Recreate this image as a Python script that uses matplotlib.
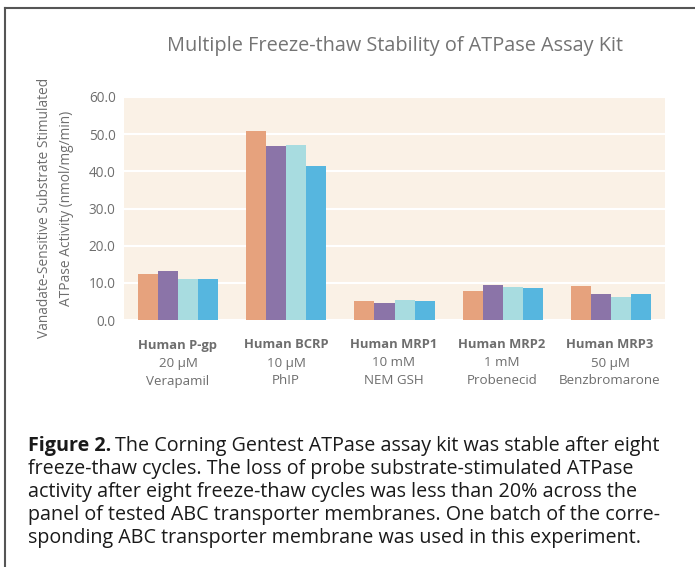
import matplotlib
matplotlib.use("Agg")
import matplotlib.pyplot as plt
import numpy as np

categories = ["Human P-gp", "Human BCRP", "Human MRP1", "Human MRP2", "Human MRP3"]
conc = ["20 \u00b5M", "10 \u00b5M", "10 mM", "1 mM", "50 \u00b5M"]
substrates = ["Verapamil", "PhIP", "NEM GSH", "Probenecid", "Benzbromarone"]
series1 = [12.4, 50.8, 5.1, 7.8, 9.1]
series2 = [13.2, 46.8, 4.6, 9.4, 7.0]
series3 = [11.0, 47.1, 5.4, 8.9, 6.2]
series4 = [11.0, 41.4, 5.1, 8.6, 7.0]
yticks = [0, 10, 20, 30, 40, 50, 60]

colors = ["#E6A27D", "#8B74A8", "#A8DCE0", "#56B6DF"]
FONT = ["Open Sans", "DejaVu Sans"]
plt.rcParams['font.family'] = FONT
grey = "#6E6E6E"

fig = plt.figure(figsize=(6.95, 5.67), dpi=100)
ax = fig.add_axes([124/695, 1-320/567, (665-124)/695, (320-97)/567])
ax.set_facecolor("#FAF1E6")
x = np.arange(len(categories))
w = 0.185
for i, s in enumerate([series1, series2, series3, series4]):
    ax.bar(x + (i - 1.5) * w, s, width=w, color=colors[i], zorder=3)
ax.set_xlim(-0.5, 4.5)
ax.set_ylim(0, 60)
ax.set_yticks(yticks)
ax.set_yticklabels([f"{v:.1f}" for v in yticks], fontsize=9.8, color=grey)
ax.tick_params(axis='y', length=0, pad=6)
ax.set_xticks([])
for sp in ax.spines.values():
    sp.set_visible(False)
ax.yaxis.grid(True, color="white", linewidth=1.5, zorder=1)
ax.set_axisbelow(True)

for i in range(len(categories)):
    xf = (178 + 108 * i) / 695
    fig.text(xf, 1 - 345/567, categories[i], ha='center', va='center', fontsize=9.4,
             fontweight='bold', color=grey)
    fig.text(xf, 1 - 363/567, conc[i], ha='center', va='center', fontsize=9.6, color=grey)
    fig.text(xf, 1 - 381/567, substrates[i], ha='center', va='center', fontsize=9.6, color=grey)

fig.text(395/695, 1 - 46/567, "Multiple Freeze-thaw Stability of ATPase Assay Kit",
         ha='center', va='center', fontsize=14.3, color="#747474")
fig.text(45/695, 1 - 208/567, "Vanadate-Sensitive Substrate Stimulated",
         rotation=90, ha='center', va='center', fontsize=9.9, color=grey)
fig.text(67/695, 1 - 208/567, "ATPase Activity (nmol/mg/min)",
         rotation=90, ha='center', va='center', fontsize=9.9, color=grey)

# frame lines (top and left)
fig.add_artist(plt.Line2D([5/695, 1], [1 - 8/567, 1 - 8/567], color="#555555", lw=1.5))
fig.add_artist(plt.Line2D([5/695, 5/695], [0, 1 - 8/567], color="#555555", lw=1.5))

cap_size = 14.2
cap_color = "#1a1a1a"
lines = [
    "freeze-thaw cycles. The loss of probe substrate-stimulated ATPase",
    "activity after eight freeze-thaw cycles was less than 20% across the",
    "panel of tested ABC transporter membranes. One batch of the corre-",
    "sponding ABC transporter membrane was used in this experiment.",
]
y0 = 446
t0 = fig.text(28/695, 1 - y0/567, "Figure 2.", ha='left', va='center', fontsize=cap_size,
              fontweight='bold', color=cap_color)
fig.canvas.draw()
bb = t0.get_window_extent(renderer=fig.canvas.get_renderer())
x1 = bb.x1 / fig.bbox.width
fig.text(x1 + 4/695, 1 - y0/567, "The Corning Gentest ATPase assay kit was stable after eight",
         ha='left', va='center', fontsize=cap_size, color=cap_color)
for k, ln in enumerate(lines):
    fig.text(28/695, 1 - (y0 + 23 * (k + 1))/567, ln, ha='left', va='center',
             fontsize=cap_size, color=cap_color)

fig.savefig("out.png", dpi=100)
